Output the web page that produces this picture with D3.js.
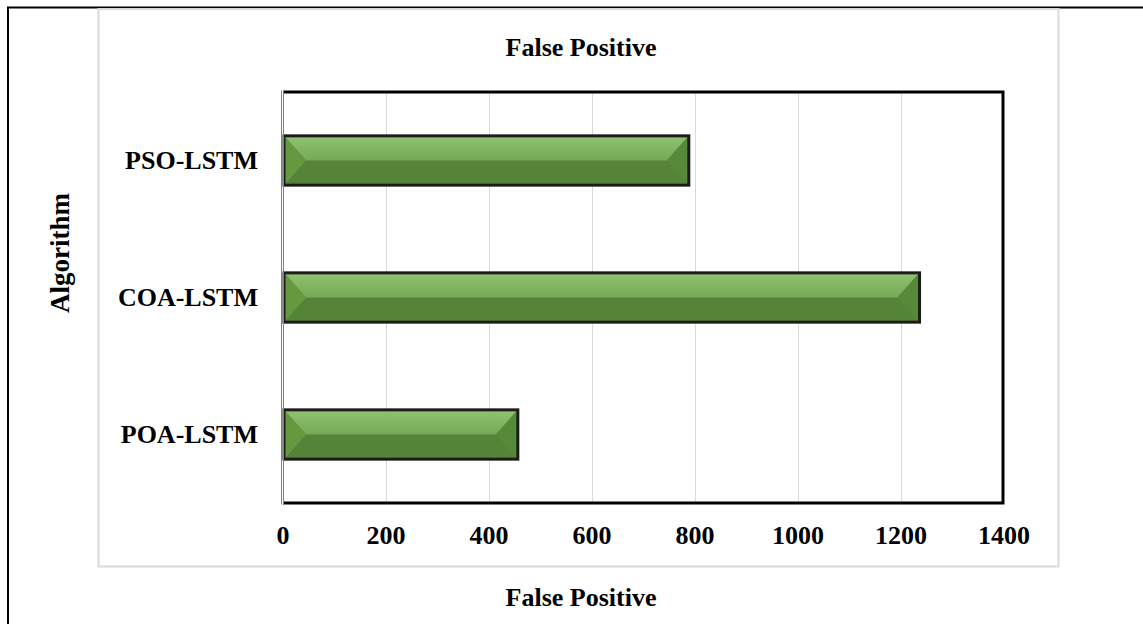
<!DOCTYPE html>
<html>
<head>
<meta charset="utf-8">
<script src="https://cdn.jsdelivr.net/npm/d3@7"></script>
<style>
  html, body { margin: 0; padding: 0; background: #fff; }
  svg { display: block; }
  text { font-family: "Liberation Serif", "Times New Roman", serif; font-weight: bold; fill: #000; }
</style>
</head>
<body>
<svg id="chart" width="1143" height="624"></svg>
<script>
// Data
const categories = ["PSO-LSTM", "COA-LSTM", "POA-LSTM"];
const values = [788, 1236, 456];
const xTicks = [0, 200, 400, 600, 800, 1000, 1200, 1400];
const chartTitle = "False Positive";
const xTitle = "False Positive";
const yTitle = "Algorithm";

const svg = d3.select("#chart");
const W = 1143, H = 624;

// Page frame
svg.append("path")
  .attr("d", `M8,${H} V7.5 H${W}`)
  .attr("fill", "none").attr("stroke", "#000").attr("stroke-width", 2);

// Chart area
svg.append("rect")
  .attr("x", 98.5).attr("y", 9).attr("width", 960).attr("height", 557.5)
  .attr("fill", "#fff").attr("stroke", "#d9d9d9").attr("stroke-width", 2);

// Plot area
const plot = { left: 283, right: 1003, top: 92, bottom: 503 };

const x = d3.scaleLinear().domain([0, 1400]).range([plot.left, plot.right + 1]);
const y = d3.scaleBand().domain(categories).range([plot.top, plot.bottom])
  .paddingInner(0.64).paddingOuter(0.32);

// Gridlines
svg.append("g").selectAll("line")
  .data(xTicks.filter(t => t > 0 && t < 1400))
  .join("line")
  .attr("x1", d => Math.round(x(d)) + 0.5).attr("x2", d => Math.round(x(d)) + 0.5)
  .attr("y1", plot.top).attr("y2", plot.bottom)
  .attr("stroke", "#d9d9d9").attr("stroke-width", 1);

// Plot border (top, right, bottom)
svg.append("path")
  .attr("d", `M${plot.left},${plot.top} H${plot.right} V${plot.bottom} H${plot.left}`)
  .attr("fill", "none").attr("stroke", "#000").attr("stroke-width", 3);

// Bar gradient for the upper bevel face
const defs = svg.append("defs");
const grad = defs.append("linearGradient").attr("id", "topFace")
  .attr("x1", 0).attr("y1", 0).attr("x2", 0).attr("y2", 1);
grad.append("stop").attr("offset", "0%").attr("stop-color", "#8fc36f");
grad.append("stop").attr("offset", "100%").attr("stop-color", "#75a955");

// Bars with bevel faces
const bev = 22;
const bars = svg.append("g").selectAll("g")
  .data(categories.map((c, i) => ({ c, v: values[i] })))
  .join("g");

bars.each(function(d) {
  const g = d3.select(this);
  const x0 = x(0) + 1, x1 = x(d.v);
  const y0 = y(d.c), y1 = y(d.c) + y.bandwidth();
  const ym = (y0 + y1) / 2;
  const b = Math.min(bev, (x1 - x0) / 2);
  const pts = a => a.map(p => p.join(",")).join(" ");
  // bottom face
  g.append("rect").attr("x", x0).attr("y", y0).attr("width", x1 - x0).attr("height", y1 - y0)
    .attr("fill", "#558439");
  // top face
  g.append("polygon").attr("points", pts([[x0, y0], [x1, y0], [x1 - b, ym], [x0 + b, ym]]))
    .attr("fill", "url(#topFace)");
  // left face
  g.append("polygon").attr("points", pts([[x0, y0], [x0 + b, ym], [x0, y1]]))
    .attr("fill", "#66993f");
  // right face
  g.append("polygon").attr("points", pts([[x1, y0], [x1 - b, ym], [x1, y1]]))
    .attr("fill", "#578a38");
  // outline
  g.append("rect").attr("x", x0).attr("y", y0).attr("width", x1 - x0).attr("height", y1 - y0)
    .attr("fill", "none").attr("stroke", "#1c1c1c").attr("stroke-width", 3);
});

// Left axis line (double gray rule)
[281.5, 283.5].forEach(px => {
  svg.append("line").attr("x1", px).attr("x2", px)
    .attr("y1", plot.top - 1.5).attr("y2", plot.bottom + 1.5)
    .attr("stroke", "#808080").attr("stroke-width", 1);
});

// X tick labels
svg.append("g").selectAll("text")
  .data(xTicks).join("text")
  .attr("x", d => x(d)).attr("y", 544)
  .attr("text-anchor", "middle").attr("font-size", 26)
  .text(d => d);

// Category labels
svg.append("g").selectAll("text")
  .data(categories).join("text")
  .attr("x", 258).attr("y", d => y(d) + y.bandwidth() / 2 + 8)
  .attr("text-anchor", "end").attr("font-size", 26)
  .text(d => d);

// Titles
svg.append("text").attr("x", 581).attr("y", 56)
  .attr("text-anchor", "middle").attr("font-size", 26).text(chartTitle);
svg.append("text").attr("x", 581).attr("y", 606)
  .attr("text-anchor", "middle").attr("font-size", 26).text(xTitle);
svg.append("text").attr("transform", "translate(69,253) rotate(-90)")
  .attr("text-anchor", "middle").attr("font-size", 27).text(yTitle);
</script>
</body>
</html>
